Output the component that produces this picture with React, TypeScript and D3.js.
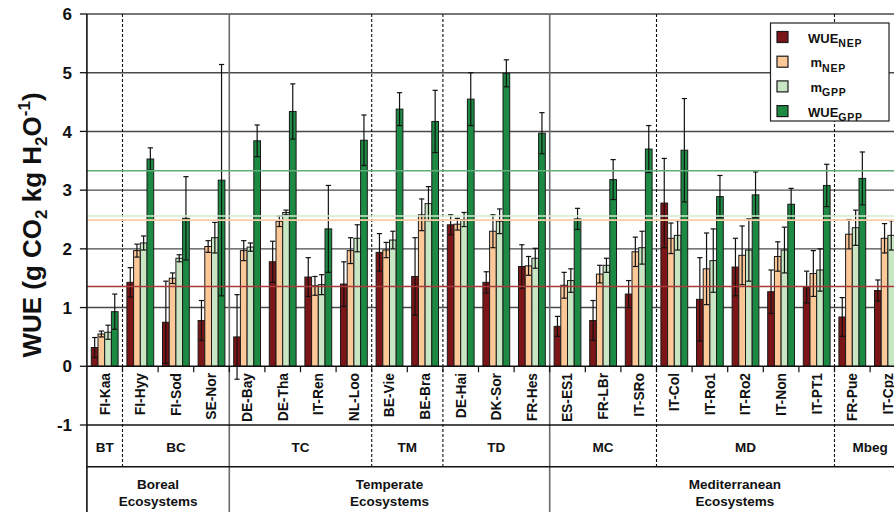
import React from "react";
import * as d3 from "d3";

const categories = ["FI-Kaa","FI-Hyy","FI-Sod","SE-Nor","DE-Bay","DE-Tha","IT-Ren","NL-Loo","BE-Vie","BE-Bra","DE-Hai","DK-Sor","FR-Hes","ES-ES1","FR-LBr","IT-SRo","IT-Col","IT-Ro1","IT-Ro2","IT-Non","IT-PT1","FR-Pue","IT-Cpz"];

const wueNep =    [0.32,1.43,0.75,0.78,0.50,1.78,1.52,1.40,1.94,1.53,2.41,1.43,1.70,0.68,0.78,1.23,2.78,1.14,1.69,1.27,1.35,0.84,1.29];
const wueNepErr = [0.17,0.25,0.70,0.34,0.72,0.35,0.33,0.38,0.32,0.66,0.17,0.18,0.37,0.17,0.34,0.23,0.76,0.71,0.49,0.37,0.27,0.33,0.18];
const mNep =      [0.55,1.97,1.50,2.04,1.97,2.47,1.37,1.97,1.98,2.58,2.42,2.30,1.71,1.38,1.57,1.95,2.18,1.66,1.89,1.87,1.58,2.25,2.18];
const mNepErr =   [0.05,0.11,0.09,0.10,0.17,0.09,0.16,0.22,0.13,0.27,0.10,0.28,0.16,0.22,0.15,0.25,0.26,0.61,0.50,0.25,0.39,0.25,0.25];
const mGpp =      [0.58,2.10,1.84,2.19,2.03,2.62,1.39,2.18,2.15,2.77,2.50,2.47,1.84,1.46,1.72,2.02,2.23,1.80,1.98,1.98,1.64,2.36,2.23];
const mGppErr =   [0.12,0.12,0.06,0.26,0.07,0.04,0.17,0.23,0.15,0.29,0.12,0.21,0.17,0.20,0.12,0.28,0.25,0.54,0.53,0.39,0.36,0.30,0.25];
const wueGpp =    [0.93,3.53,2.52,3.17,3.84,4.34,2.34,3.85,4.38,4.17,4.55,4.99,3.97,2.51,3.18,3.70,3.68,2.89,2.92,2.76,3.08,3.20,3.00];
const wueGppErr = [0.30,0.19,0.71,1.97,0.27,0.47,0.74,0.43,0.28,0.53,0.45,0.23,0.35,0.18,0.34,0.40,0.88,0.36,0.39,0.27,0.36,0.45,0.40];

const seriesKeys = ["WUE_NEP","m_NEP","m_GPP","WUE_GPP"];
const seriesMain = ["WUE","m","m","WUE"];
const seriesSub = ["NEP","NEP","GPP","GPP"];
const seriesValues = [wueNep, mNep, mGpp, wueGpp];
const seriesErrors = [wueNepErr, mNepErr, mGppErr, wueGppErr];
const seriesColors = ["#7c1517","#fcc898","#c8e6c4","#1c8a43"];

const refValues = [1.36, 2.49, 2.56, 3.33];
const refColors = ["#a83a3a","#f8cda6","#d3ead0","#5fae7c"];

const yTicks = [-1,0,1,2,3,4,5,6];

const subgroups = [
  { name: "BT", start: 0, end: 1 },
  { name: "BC", start: 1, end: 4 },
  { name: "TC", start: 4, end: 8 },
  { name: "TM", start: 8, end: 10 },
  { name: "TD", start: 10, end: 13 },
  { name: "MC", start: 13, end: 16 },
  { name: "MD", start: 16, end: 21 },
  { name: "Mbeg", start: 21, end: 23 },
];
const ecosystems = [
  { l1: "Boreal", l2: "Ecosystems", start: 0, end: 4 },
  { l1: "Temperate", l2: "Ecosystems", start: 4, end: 13 },
  { l1: "Mediterranean", l2: "Ecosystems", start: 13, end: 23.4 },
];
const dashedAt = [1, 8, 10, 16, 21];
const solidAt = [4, 13];

const W = 894, H = 512;
const FONT = "'Liberation Sans', Arial, Helvetica, sans-serif";

export default function App() {
  const x0 = 86.9, bw = 35.6;
  const x = d3.scaleBand().domain(categories).range([x0, x0 + bw * categories.length]).padding(0);
  const xs = d3.scaleBand().domain(seriesKeys).range([4.4, 31.2]).padding(0);
  const y = d3.scaleLinear().domain([-1, 6]).range([425, 14]);
  const xAt = (k: number) => x0 + k * x.bandwidth();
  const right = W + 20;
  const yBottom = 466.7;

  return (
    <svg width={W} height={H} style={{ position: "absolute", left: 0, top: 0, background: "#fff" }} fontFamily={FONT}>
      <rect x={0} y={0} width={W} height={H} fill="#fff" />
      {/* gridlines */}
      {yTicks.filter(t => t > 0).map(t => (
        <line key={"g" + t} x1={x0} x2={right} y1={y(t)} y2={y(t)} stroke="#4a4a4a" strokeWidth={1.4} />
      ))}
      {/* vertical separators */}
      {solidAt.map(k => (
        <line key={"s" + k} x1={xAt(k)} x2={xAt(k)} y1={y(6)} y2={H} stroke="#6a6a6a" strokeWidth={1.6} />
      ))}
      {dashedAt.map(k => (
        <line key={"d" + k} x1={xAt(k)} x2={xAt(k)} y1={y(6)} y2={yBottom} stroke="#111" strokeWidth={1.1} strokeDasharray="3,2" />
      ))}
      {/* bars */}
      {categories.map((c, i) => (
        <g key={c} transform={`translate(${x(c)},0)`}>
          {seriesKeys.map((s, j) => {
            const v = seriesValues[j][i];
            const bx = xs(s)!;
            return (
              <rect key={s} x={bx} y={y(v)} width={xs.bandwidth()} height={y(0) - y(v)} fill={seriesColors[j]} stroke="#1a1a1a" strokeWidth={1} />
            );
          })}
          {seriesKeys.map((s, j) => {
            const v = seriesValues[j][i];
            const e = seriesErrors[j][i];
            const cx = xs(s)! + xs.bandwidth() / 2;
            const cw = 2.6;
            return (
              <g key={"e" + s} stroke="#111" strokeWidth={1.2}>
                <line x1={cx} x2={cx} y1={y(v + e)} y2={y(v - e)} />
                <line x1={cx - cw} x2={cx + cw} y1={y(v + e)} y2={y(v + e)} />
                <line x1={cx - cw} x2={cx + cw} y1={y(v - e)} y2={y(v - e)} />
              </g>
            );
          })}
        </g>
      ))}
      {/* reference lines */}
      {refValues.map((r, i) => (
        <line key={"r" + i} x1={x0} x2={right} y1={y(r)} y2={y(r)} stroke={refColors[i]} strokeWidth={1.6} />
      ))}
      {/* zero axis + ticks */}
      <line x1={x0} x2={right} y1={y(0)} y2={y(0)} stroke="#111" strokeWidth={1.5} />
      {categories.map((c, i) => i > 0 ? (
        <line key={"xt" + c} x1={xAt(i)} x2={xAt(i)} y1={y(0)} y2={y(0) + 6} stroke="#111" strokeWidth={1.2} />
      ) : null)}
      <line x1={x0} x2={right} y1={y(-1)} y2={y(-1)} stroke="#111" strokeWidth={1.5} />
      <line x1={x0} x2={right} y1={yBottom} y2={yBottom} stroke="#111" strokeWidth={1.5} />
      {/* left axis */}
      <line x1={x0} x2={x0} y1={y(6)} y2={H} stroke="#111" strokeWidth={1.6} />
      {yTicks.map(t => (
        <g key={"yt" + t}>
          <line x1={x0 - 7} x2={x0} y1={y(t)} y2={y(t)} stroke="#111" strokeWidth={1.3} />
          <text x={72} y={y(t)} dy="0.36em" textAnchor="end" fontSize={17} fontWeight="bold" fill="#111">{t}</text>
        </g>
      ))}
      {/* y title */}
      <text transform="translate(41,225) rotate(-90)" textAnchor="middle" fontSize={26} fontWeight="bold" fill="#111">
        WUE (g CO<tspan fontSize={17} dy={6}>2</tspan><tspan dy={-6}> kg H</tspan><tspan fontSize={17} dy={6}>2</tspan><tspan dy={-6}>O</tspan><tspan fontSize={17} dy={-11}>-1</tspan><tspan dy={11}>)</tspan>
      </text>
      {/* category labels */}
      {categories.map(c => (
        <text key={"cl" + c} transform={`translate(${x(c)! + x.bandwidth() / 2},373) rotate(-90)`} dy="0.36em" textAnchor="end" fontSize={13.8} fontWeight="bold" fill="#111">{c}</text>
      ))}
      {/* subgroup labels */}
      {subgroups.map(g => (
        <text key={"sg" + g.name} x={(xAt(g.start) + xAt(g.end)) / 2} y={447} dy="0.36em" textAnchor="middle" fontSize={13.5} fontWeight="bold" fill="#111">{g.name}</text>
      ))}
      {/* ecosystem labels */}
      {ecosystems.map(g => (
        <text key={"ec" + g.l1} x={(xAt(g.start) + xAt(g.end)) / 2} textAnchor="middle" fontSize={13.5} fontWeight="bold" fill="#111">
          <tspan x={(xAt(g.start) + xAt(g.end)) / 2} y={489}>{g.l1}</tspan>
          <tspan x={(xAt(g.start) + xAt(g.end)) / 2} y={506}>{g.l2}</tspan>
        </text>
      ))}
      {/* legend */}
      <g>
        <rect x={770.5} y={23} width={118.5} height={98} fill="#fff" stroke="#222" strokeWidth={1.2} />
        {seriesKeys.map((s, j) => {
          const cy = 37 + j * 24.7;
          const tx = seriesMain[j] === "m" ? 810.5 : 808;
          return (
            <g key={"lg" + s}>
              <rect x={777} y={cy - 5.5} width={11} height={11} fill={seriesColors[j]} stroke="#1a1a1a" strokeWidth={1.2} />
              <text x={tx} y={cy + 5.5} fontSize={13} fontWeight="bold" fill="#111">
                {seriesMain[j]}<tspan fontSize={10.5} dy={4.5} letterSpacing={0.8}>{seriesSub[j]}</tspan>
              </text>
            </g>
          );
        })}
      </g>
    </svg>
  );
}
